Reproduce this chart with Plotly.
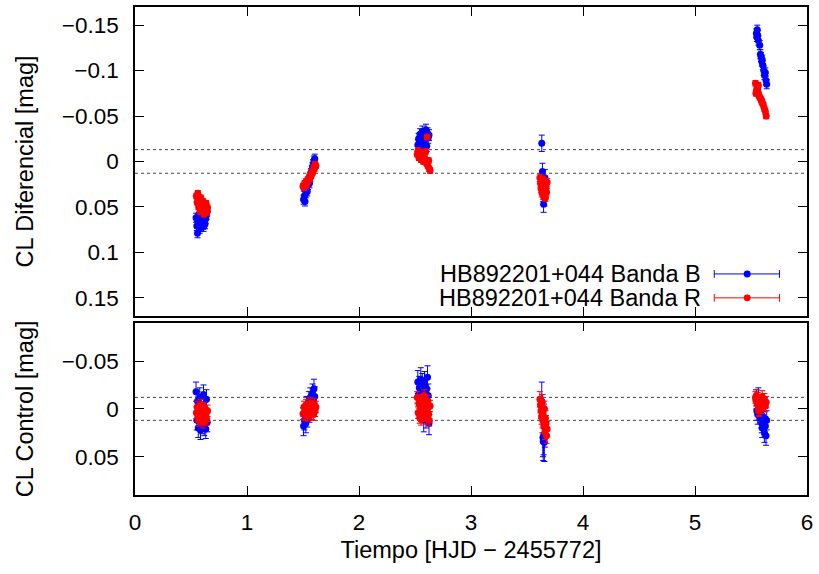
import plotly.graph_objects as go

# Observation times (HJD - 2455772) for each band
t_B = [0.545, 0.552, 0.558, 0.565, 0.571, 0.578, 0.585, 0.592, 0.598, 0.605, 0.612, 0.618, 0.625, 0.632, 0.638, 0.645,
       1.505, 1.512, 1.518, 1.525, 1.532, 1.538, 1.545, 1.552, 1.558, 1.565, 1.572, 1.578, 1.585, 1.592, 1.598, 1.605,
       2.525, 2.532, 2.538, 2.545, 2.552, 2.558, 2.565, 2.572, 2.578, 2.585, 2.592, 2.598, 2.605, 2.612, 2.618, 2.625,
       3.632, 3.638, 3.642, 3.645, 3.648, 3.652, 3.655, 3.660,
       5.548, 5.556, 5.552, 5.566, 5.560, 5.578, 5.590, 5.584, 5.596, 5.606, 5.600, 5.614, 5.620, 5.628, 5.634, 5.640]
t_R = [0.548, 0.555, 0.561, 0.568, 0.575, 0.581, 0.588, 0.595, 0.601, 0.608, 0.615, 0.621, 0.628, 0.635, 0.641, 0.648,
       1.500, 1.508, 1.515, 1.522, 1.528, 1.535, 1.542, 1.548, 1.555, 1.562, 1.568, 1.575, 1.582, 1.588, 1.595, 1.602, 1.608, 1.615,
       2.520, 2.528, 2.535, 2.542, 2.548, 2.555, 2.562, 2.568, 2.575, 2.582, 2.588, 2.595, 2.602, 2.608, 2.615, 2.622, 2.628, 2.635,
       3.615, 3.620, 3.625, 3.630, 3.635, 3.640, 3.645, 3.650, 3.655, 3.660, 3.665, 3.670, 3.675, 3.680,
       5.540, 5.556, 5.548, 5.566, 5.544, 5.572, 5.560, 5.582, 5.590, 5.568, 5.600, 5.610, 5.596, 5.620, 5.628, 5.636]

# Differential light curve (object - comparison), mag
diff_B = [0.062, 0.071, 0.079, 0.066, 0.058, 0.074, 0.068, 0.060, 0.057, 0.065, 0.072, 0.061, 0.069, 0.063, 0.059, 0.055,
          0.042, 0.038, 0.044, 0.035, 0.030, 0.033, 0.026, 0.022, 0.024, 0.017, 0.013, 0.010, 0.006, 0.003, -0.001, -0.003,
          -0.018, -0.025, -0.021, -0.030, -0.016, -0.027, -0.033, -0.022, -0.019, -0.028, -0.024, -0.035, -0.017, -0.031, -0.026, -0.029,
          -0.020, 0.011, 0.025, 0.035, 0.047, 0.030, 0.040, 0.018,
          -0.141, -0.145, -0.137, -0.133, -0.139, -0.128, -0.115, -0.118, -0.110, -0.106, -0.112, -0.100, -0.095, -0.098, -0.089, -0.085]
diff_R = [0.038, 0.045, 0.035, 0.050, 0.042, 0.055, 0.040, 0.047, 0.052, 0.044, 0.058, 0.049, 0.053, 0.046, 0.056, 0.051,
          0.027, 0.029, 0.024, 0.026, 0.022, 0.025, 0.020, 0.021, 0.017, 0.019, 0.014, 0.015, 0.011, 0.012, 0.007, 0.008, 0.003, 0.005,
          -0.008, -0.012, -0.004, -0.010, -0.006, -0.002, -0.009, -0.005, 0.000, -0.007, -0.003, -0.011, 0.002, -0.027, 0.005, -0.001, 0.008, 0.010,
          0.018, 0.024, 0.030, 0.022, 0.035, 0.027, 0.038, 0.020, 0.032, 0.026, 0.040, 0.029, 0.034, 0.023,
          -0.086, -0.082, -0.078, -0.084, -0.075, -0.072, -0.079, -0.070, -0.068, -0.074, -0.065, -0.062, -0.066, -0.058, -0.055, -0.050]

# Control light curve (comparison - control star), mag
ctrl_B = [-0.018, 0.012, -0.008, 0.020, 0.005, -0.012, 0.022, -0.004, 0.016, 0.009, -0.015, 0.018, 0.003, 0.021, -0.010, 0.014,
          0.018, 0.012, 0.006, 0.015, -0.003, 0.009, 0.002, -0.008, 0.004, -0.012, -0.005, 0.001, -0.016, -0.009, -0.021, -0.013,
          -0.028, -0.015, -0.022, -0.008, -0.031, -0.019, -0.025, -0.012, 0.012, -0.027, -0.018, 0.008, -0.021, -0.033, -0.014, 0.015,
          -0.008, 0.005, 0.030, 0.034, 0.028, 0.015, 0.035, 0.020,
          -0.010, -0.005, 0.002, -0.012, 0.006, -0.002, 0.010, 0.004, 0.015, 0.008, 0.020, 0.013, 0.025, 0.018, 0.028, 0.012]
ctrl_R = [0.004, -0.002, 0.008, 0.012, 0.001, 0.006, -0.004, 0.010, 0.003, 0.014, 0.007, -0.001, 0.009, 0.005, 0.011, 0.002,
          0.005, -0.002, 0.006, 0.001, -0.004, 0.003, 0.007, -0.001, 0.004, -0.006, 0.002, 0.005, -0.003, 0.000, 0.006, -0.005, 0.002, -0.002,
          -0.012, 0.004, -0.006, 0.009, -0.002, 0.011, -0.009, 0.002, 0.007, -0.014, 0.005, -0.004, 0.010, 0.000, -0.008, 0.006, 0.012, -0.003,
          -0.010, -0.004, 0.002, 0.008, -0.007, 0.012, 0.005, 0.018, 0.000, 0.024, 0.010, 0.015, 0.028, 0.021,
          -0.012, -0.006, -0.014, -0.002, -0.009, 0.001, -0.011, -0.004, -0.008, 0.002, -0.013, -0.005, -0.001, -0.010, -0.003, -0.007]

# Photometric uncertainties per night (nights 1..5) and points per night
n_B = [16, 16, 16, 8, 16]
n_R = [16, 18, 18, 14, 16]
err_diff_B = [0.005, 0.005, 0.006, 0.009, 0.005]
err_diff_R = [0.003, 0.003, 0.003, 0.004, 0.003]
err_ctrl_B = [0.010, 0.010, 0.012, 0.020, 0.010]
err_ctrl_R = [0.006, 0.006, 0.006, 0.008, 0.006]

# Scatter levels of the control curve (dotted reference lines)
sigma_diff = 0.013
sigma_ctrl = 0.012

y_ticks_top = [-0.15, -0.1, -0.05, 0, 0.05, 0.1, 0.15]
y_ticks_bot = [-0.05, 0, 0.05]
x_ticks = [0, 1, 2, 3, 4, 5, 6]

label_B = "HB892201+044 Banda B"
label_R = "HB892201+044 Banda R"
BLUE = "#0000ff"
RED = "#ff0000"
FONT = "Liberation Sans, Arial, sans-serif"


def expand(per_night, counts):
    out = []
    for v, n in zip(per_night, counts):
        out.extend([v] * n)
    return out


def tick_text(vals):
    out = []
    for v in vals:
        s = ("%g" % abs(v))
        out.append(("\u2212" + s) if v < 0 else s)
    return out


def series(x, y, err, color, xa, ya):
    return go.Scatter(
        x=x, y=y, mode="markers", xaxis=xa, yaxis=ya, showlegend=False,
        marker=dict(color=color, size=7, symbol="circle", line=dict(width=0)),
        error_y=dict(type="data", array=err, color=color, thickness=1, width=3),
    )


fig = go.Figure()
fig.add_trace(series(t_B, diff_B, expand(err_diff_B, n_B), BLUE, "x", "y"))
fig.add_trace(series(t_R, diff_R, expand(err_diff_R, n_R), RED, "x", "y"))
fig.add_trace(series(t_B, ctrl_B, expand(err_ctrl_B, n_B), BLUE, "x2", "y2"))
fig.add_trace(series(t_R, ctrl_R, expand(err_ctrl_R, n_R), RED, "x2", "y2"))

shapes = []
for yref, s in (("y", sigma_diff), ("y2", sigma_ctrl)):
    for v in (-s, s):
        shapes.append(dict(type="line", xref="paper", x0=0, x1=1, yref=yref, y0=v, y1=v,
                           line=dict(color="#444444", width=1, dash="dot"), layer="below"))

# Key with error-bar sample, placed inside the upper panel
key_rows = [(label_B, BLUE, 0.453), (label_R, RED, 0.404)]
x_l, x_m, x_r = 0.862, 0.911, 0.959
annotations = []
for text, color, yy in key_rows:
    shapes.append(dict(type="line", xref="paper", yref="paper", x0=x_l, x1=x_r, y0=yy, y1=yy,
                       line=dict(color=color, width=1)))
    for xc in (x_l, x_r):
        shapes.append(dict(type="line", xref="paper", yref="paper", x0=xc, x1=xc, y0=yy - 0.008, y1=yy + 0.008,
                           line=dict(color=color, width=1)))
    shapes.append(dict(type="circle", xref="paper", yref="paper", x0=x_m - 0.0052, x1=x_m + 0.0052,
                       y0=yy - 0.0071, y1=yy + 0.0071, fillcolor=color, line=dict(width=0)))
    annotations.append(dict(text=text, xref="paper", yref="paper", x=0.845, y=yy, xanchor="right",
                            yanchor="middle", showarrow=False, font=dict(size=23.5, color="black", family=FONT)))

axis_common = dict(showline=True, linecolor="black", linewidth=1.5, mirror="allticks", ticks="inside",
                   ticklen=9, tickwidth=1, tickcolor="black", showgrid=False, zeroline=False,
                   tickfont=dict(size=22.5, color="black", family=FONT))
title_font = dict(size=23.5, color="black", family=FONT)

fig.update_layout(
    width=819, height=574,
    margin=dict(l=135, r=12, t=5, b=79),
    paper_bgcolor="white", plot_bgcolor="white",
    font=dict(family=FONT, size=22, color="black"),
    showlegend=False,
    shapes=shapes, annotations=annotations,
    xaxis=dict(domain=[0, 1], anchor="y", range=[0, 6], tickvals=x_ticks, showticklabels=False, **axis_common),
    yaxis=dict(domain=[0.367, 1.0], anchor="x", range=[0.17, -0.17], tickvals=y_ticks_top,
               ticktext=tick_text(y_ticks_top), ticklabelstandoff=10,
               title=dict(text="CL Diferencial [mag]", standoff=22, font=title_font), **axis_common),
    xaxis2=dict(domain=[0, 1], anchor="y2", range=[0, 6], tickvals=x_ticks, ticktext=[str(v) for v in x_ticks],
                ticklabelstandoff=6, title=dict(text="Tiempo [HJD \u2212 2455772]", standoff=8, font=title_font),
                **axis_common),
    yaxis2=dict(domain=[0.0, 0.353], anchor="x2", range=[0.09, -0.09], tickvals=y_ticks_bot,
                ticktext=tick_text(y_ticks_bot), ticklabelstandoff=10,
                title=dict(text="CL Control [mag]", standoff=22, font=title_font), **axis_common),
)

fig.write_html("out.html")
